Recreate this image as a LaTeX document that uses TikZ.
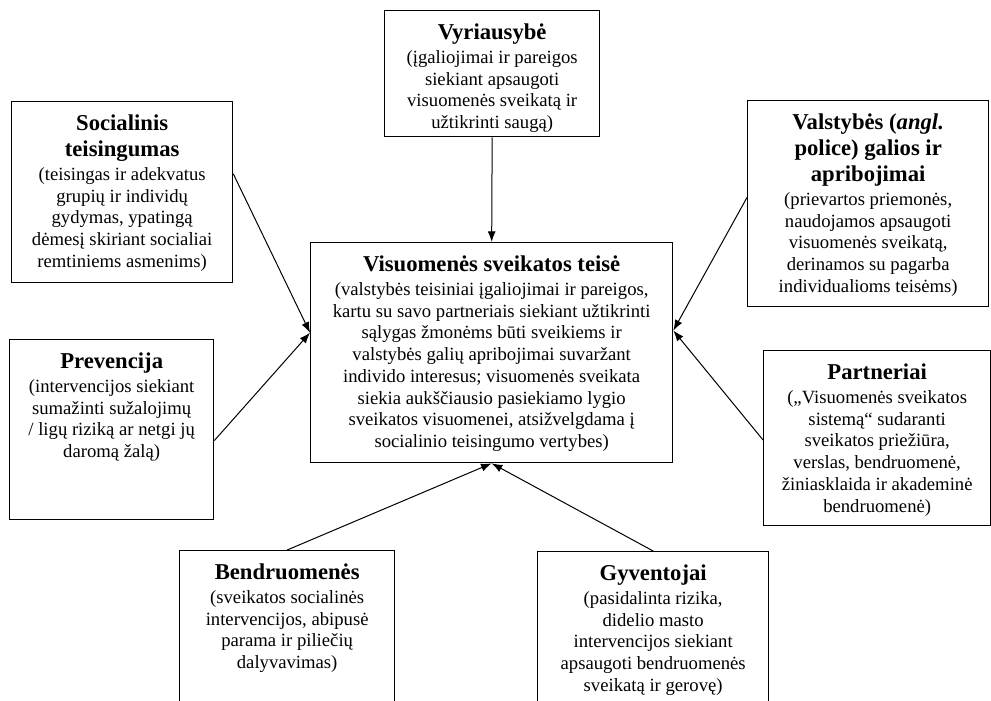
\documentclass[tikz,border=0pt]{standalone}
\usepackage{fontspec}
\setmainfont{Liberation Serif}
\usetikzlibrary{arrows.meta,calc}
\tikzstyle{block} = [draw, line width=1pt, rectangle, inner sep=0pt, anchor=north west]
\tikzstyle{link} = [line width=0.75pt, -{Latex[length=8pt,width=6pt]}]
\newcommand{\blocktext}[4]{\parbox[c][#2][t]{#1}{\centering\vspace*{10pt}%
  {\fontsize{17}{19.5}\selectfont\bfseries #3\par}\vspace{1.5pt}%
  {\fontsize{14}{16.3}\selectfont #4\par}}}

\begin{document}
\begin{tikzpicture}[x=0.75pt, y=-0.75pt]
    \clip (0,0) rectangle (991,700);
    \node[block] (gov) at (384,10) {\blocktext{161.25pt}{94.5pt}{Vyriausybė}
        {(įgaliojimai ir pareigos\\ siekiant apsaugoti\\ visuomenės sveikatą ir\\ užtikrinti saugą)}};
    \node[block] (soc) at (11,101) {\blocktext{165.75pt}{135.75pt}{Socialinis\\ teisingumas}
        {(teisingas ir adekvatus\\ grupių ir individų\\ gydymas, ypatingą\\ dėmesį skiriant socialiai\\ remtiniems asmenims)}};
    \node[block] (pol) at (747,100) {\blocktext{180.75pt}{154.5pt}{Valstybės (\textit{angl.}\\ police) galios ir\\ apribojimai}
        {(prievartos priemonės,\\ naudojamos apsaugoti\\ visuomenės sveikatą,\\ derinamos su pagarba\\ individualioms teisėms)}};
    \node[block] (law) at (310,242) {\blocktext{271.5pt}{165pt}{Visuomenės sveikatos teisė}
        {(valstybės teisiniai įgaliojimai ir pareigos,\\ kartu su savo partneriais siekiant užtikrinti\\ sąlygas žmonėms būti sveikiems ir\\ valstybės galių apribojimai suvaržant\\ individo interesus; visuomenės sveikata\\ siekia aukščiausio pasiekiamo lygio\\ sveikatos visuomenei, atsižvelgdama į\\ socialinio teisingumo vertybes)}};
    \node[block] (prev) at (9,339) {\blocktext{153pt}{135pt}{Prevencija}
        {(intervencijos siekiant\\ sumažinti sužalojimų\\ / ligų riziką ar netgi jų\\ daromą žalą)}};
    \node[block] (part) at (763,350) {\blocktext{170.25pt}{131.25pt}{Partneriai}
        {(„Visuomenės sveikatos\\ sistemą“ sudaranti\\ sveikatos priežiūra,\\ verslas, bendruomenė,\\ žiniasklaida ir akademinė\\ bendruomenė)}};
    \node[block] (comm) at (179,550) {\blocktext{161.25pt}{120pt}{Bendruomenės}
        {(sveikatos socialinės\\ intervencijos, abipusė\\ parama ir piliečių\\ dalyvavimas)}};
    \node[block] (pop) at (537,551) {\blocktext{173.25pt}{120pt}{Gyventojai}
        {(pasidalinta rizika,\\ didelio masto\\ intervencijos siekiant\\ apsaugoti bendruomenės\\ sveikatą ir gerovę)}};
    \coordinate (lawL) at ($(law.north west)!0.41!(law.south west)$);
    \coordinate (lawR) at ($(law.north east)!0.40!(law.south east)$);
    \draw[link] (gov.south) -- (law.north);
    \draw[link] ($(soc.north east)!0.40!(soc.south east)$) -- (lawL);
    \draw[link] ($(prev.north east)!0.56!(prev.south east)$) -- (lawL);
    \draw[link] ($(pol.north west)!0.47!(pol.south west)$) -- (lawR);
    \draw[link] ($(part.north west)!0.51!(part.south west)$) -- (lawR);
    \draw[link] (comm.north) -- (law.south);
    \draw[link] (pop.north) -- (law.south);
\end{tikzpicture}
\end{document}
